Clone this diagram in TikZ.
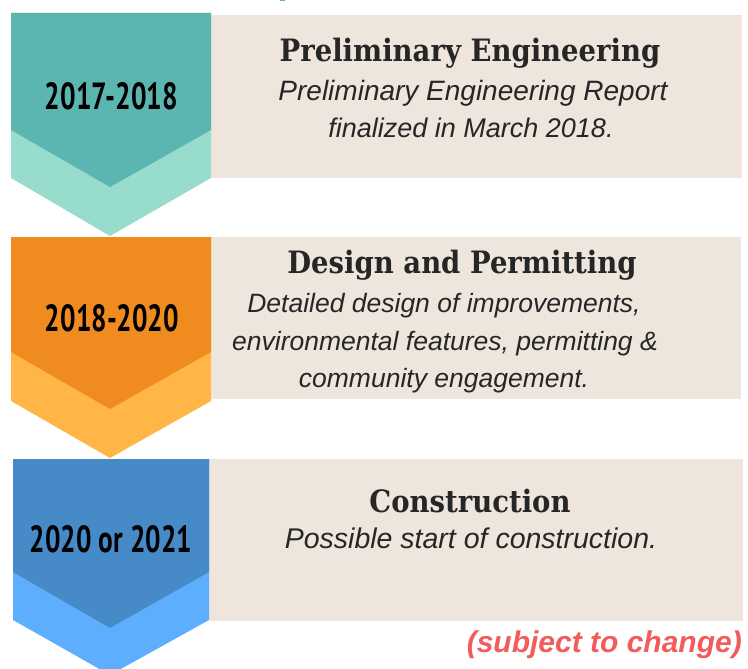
\documentclass[tikz,border=0pt]{standalone}
\usepackage{fontspec}
\setmainfont{Liberation Sans}
\newfontfamily\titlefont{DejaVu Serif}
\newfontfamily\yearfont{PT Sans}
\definecolor{tealD}{HTML}{5BB5B0}
\definecolor{tealL}{HTML}{98DCCE}
\definecolor{oranD}{HTML}{F08B20}
\definecolor{oranL}{HTML}{FFB646}
\definecolor{blueD}{HTML}{468BC8}
\definecolor{blueL}{HTML}{5DAEFD}
\definecolor{beige}{HTML}{EEE5DD}
\definecolor{ink}{HTML}{262626}
\definecolor{warn}{HTML}{F25C5C}
\tikzset{
  titletext/.style={anchor=base, inner sep=0pt, text=ink, font=\titlefont\bfseries\fontsize{27.5}{32}\selectfont},
  bodytext/.style={anchor=base, inner sep=0pt, text=ink, font=\itshape\fontsize{27}{32}\selectfont},
  bodytwo/.style={bodytext, font=\itshape\fontsize{26.5}{32}\selectfont},
  yeartext/.style={anchor=center, inner sep=0pt, text=black},
  panel/.style={fill=beige, draw=none},
}
\newcommand\yr[2]{\resizebox{#1pt}{27pt}{\yearfont\bfseries #2}}
\newcommand\ttl[1]{\scalebox{1}[1.12]{#1}}
\begin{document}
\begin{tikzpicture}[x=1pt,y=-1pt]
\useasboundingbox (0,0) rectangle (748,669);
\fill[white] (0,0) rectangle (748,669);
\fill[tealD] (280,0) rectangle (285,1.5);
% panels
\fill[panel] (211,15) rectangle (742,178);
\fill[panel] (211,237) rectangle (741,399);
\fill[panel] (209,459) rectangle (743,621);
% chevrons
\fill[tealL] (11,13) -- (211,13) -- (211,178) -- (110,236) -- (11,178) -- cycle;
\fill[tealD] (11,13) -- (211,13) -- (211,130) -- (110,187) -- (11,130) -- cycle;
\fill[oranL] (11,237) -- (211,237) -- (211,401) -- (110,458) -- (11,401) -- cycle;
\fill[oranD] (11,237) -- (211,237) -- (211,352) -- (110,409) -- (11,352) -- cycle;
\fill[blueL] (13,459) -- (209,459) -- (209,620) -- (110,675) -- (13,620) -- cycle;
\fill[blueD] (13,459) -- (209,459) -- (209,572) -- (110,628) -- (13,572) -- cycle;
% years
\node[yeartext] (y1) at (111.5,96) {\yr{133}{2017-2018}};
\node[yeartext] (y2) at (112,318) {\yr{134}{2018-2020}};
\node[yeartext] (y3) at (111,539) {\yr{162}{2020 or 2021}};
% stage 1
\node[titletext] (t1) at (470,62) {\ttl{Preliminary Engineering}};
\node[bodytext, font=\itshape\fontsize{28}{32}\selectfont] (b1a) at (473,101) {Preliminary Engineering Report};
\node[bodytext] (b1b) at (471,138) {finalized in March 2018.};
% stage 2
\node[titletext] (t2) at (462,273) {\ttl{Design and Permitting}};
\node[bodytwo] (b2a) at (444,312) {Detailed design of improvements,};
\node[bodytwo] (b2b) at (445,350) {environmental features, permitting \&};
\node[bodytwo] (b2c) at (444,387) {community engagement.};
% stage 3
\node[titletext] (t3) at (470,512) {\ttl{Construction}};
\node[bodytext, font=\itshape\fontsize{28.5}{32}\selectfont] (b3a) at (471,548) {Possible start of construction.};
% note
\node[anchor=base east, inner sep=0pt, text=warn, font=\bfseries\itshape\fontsize{30}{34}\selectfont] (note) at (742,652) {(subject to change)};
\end{tikzpicture}
\end{document}
